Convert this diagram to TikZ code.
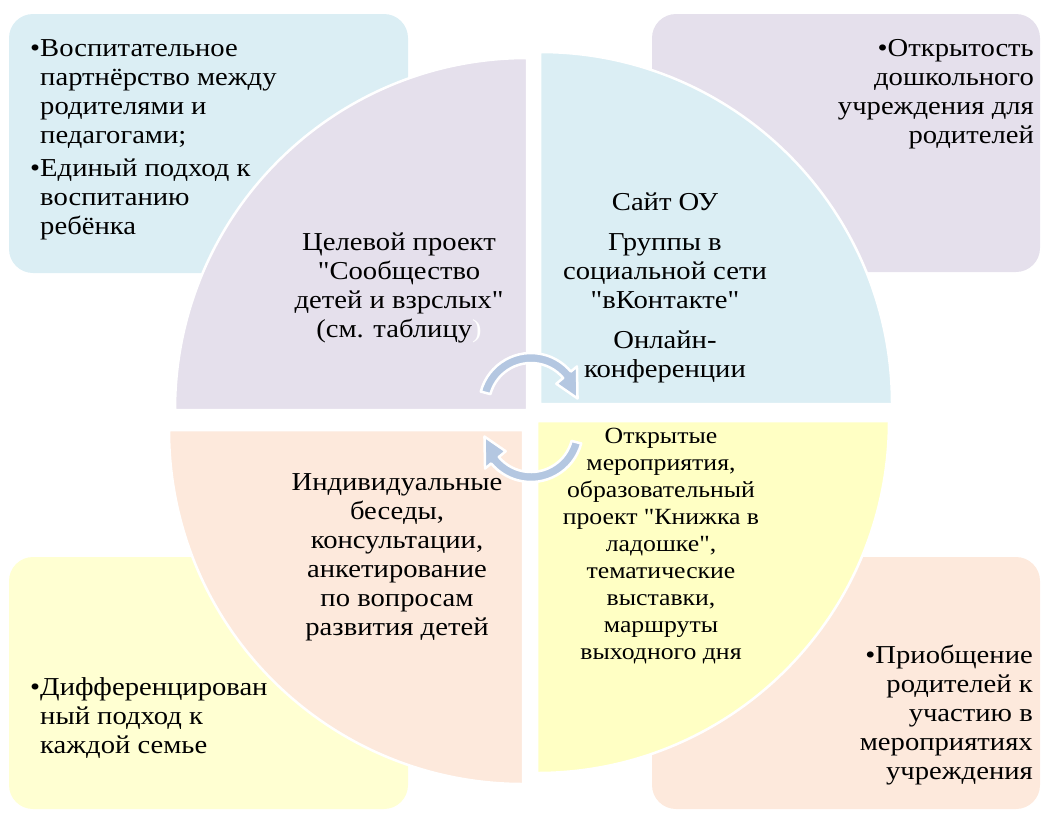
\documentclass[tikz,border=0pt]{standalone}
\usepackage{fontspec}
\setmainfont{Liberation Serif}[Ligatures=TeXOff,FakeStretch=1.11]
\definecolor{cblue}{HTML}{DBEEF4}
\definecolor{clav}{HTML}{E5E0EC}
\definecolor{cyelq}{HTML}{FFFFC4}
\definecolor{cyelr}{HTML}{FFFFD2}
\definecolor{cpeach}{HTML}{FDE9DC}
\definecolor{carrow}{HTML}{B4C7E1}
\begin{document}
\begin{tikzpicture}[x=1pt,y=-1pt,
  rbox/.style={rounded corners=24pt},
  quad/.style={draw=white,line width=2.5pt},
  txt/.style={inner sep=0pt,font=\fontsize{25.8}{29}\selectfont},
  stxt/.style={inner sep=0pt,font=\fontsize{23.2}{27}\selectfont},
  cyc/.style={fill=carrow,draw=white,line width=2.5pt,line join=round}]
\useasboundingbox (0,0) rectangle (1043,812);
% outer boxes
\fill[rbox,cblue] (9,14) rectangle (408,273);
\fill[rbox,clav] (652,14) rectangle (1040,272);
\fill[rbox,cyelr] (9,557) rectangle (408,809);
\fill[rbox,cpeach] (652,557) rectangle (1040,809);
% quadrants
\begin{scope}[shift={(527,410)},yscale=-1]
  \filldraw[quad,fill=clav] (0,0) -- (180:352) arc[start angle=180,end angle=90,radius=352] -- cycle;
\end{scope}
\begin{scope}[shift={(540,404)},yscale=-1]
  \filldraw[quad,fill=cblue] (0,0) -- (90:352) arc[start angle=90,end angle=0,radius=352] -- cycle;
\end{scope}
\begin{scope}[shift={(537,421)},yscale=-1]
  \filldraw[quad,fill=cyelq] (0,0) -- (0:352) arc[start angle=0,end angle=-90,radius=352] -- cycle;
\end{scope}
\begin{scope}[shift={(523,430)},yscale=-1]
  \filldraw[quad,fill=cpeach] (0,0) -- (-90:354) arc[start angle=-90,end angle=-180,radius=354] -- cycle;
\end{scope}
% box texts
\node[txt,anchor=north west,align=left] (ttl) at (30,35.7)
  {\strut•Воспитательное\\\hphantom{•}партнёрство между\\\hphantom{•}родителями и\\\hphantom{•}педагогами;\\[4pt]•Единый подход к\\\hphantom{•}воспитанию\\\hphantom{•}ребёнка};
\node[txt,anchor=north east,align=right] (ttr) at (1034,35.7)
  {\strut•Открытость\\дошкольного\\учреждения для\\родителей};
\node[txt,anchor=north west,align=left] (tbl) at (30,674.7)
  {\strut•Дифференцирован\\\hphantom{•}ный подход к\\\hphantom{•}каждой семье};
\node[txt,anchor=north east,align=right] (tbr) at (1033,642.7)
  {\strut•Приобщение\\родителей к\\участию в\\мероприятиях\\учреждения};
% quadrant texts
\node[txt,anchor=north,align=center] (qtl) at (399,229.7)
  {\strut Целевой проект\\"Сообщество\\детей и взрслых"\\(см. таблицу\textcolor{white}{)}};
\node[txt,anchor=north,align=center] (qtr) at (665,189.7)
  {\strut Сайт ОУ\\[11pt]Группы в\\социальной сети\\"вКонтакте"\\[11pt]Онлайн-\\конференции};
\node[txt,anchor=north,align=center] (qbl) at (397,469.7)
  {\strut Индивидуальные\\беседы,\\консультации,\\анкетирование\\по вопросам\\развития детей};
\node[stxt,anchor=north,align=center] (qbr) at (661,424.1)
  {\strut Открытые\\мероприятия,\\образовательный\\проект "Книжка в\\ладошке",\\тематические\\выставки,\\маршруты\\выходного дня};
% cycle arrows
\coordinate (ca) at (531,405);
\coordinate (cb) at (531,430);
\begin{scope}[shift={(ca)},yscale=-1]
  \filldraw[cyc] (165:52) arc[start angle=165,end angle=40,radius=52] -- (40:60) -- (8:47) -- (40:33) -- (40:42) arc[start angle=40,end angle=165,radius=42] -- cycle;
\end{scope}
\begin{scope}[shift={(cb)},yscale=-1]
  \filldraw[cyc] (-15:52) arc[start angle=-15,end angle=-140,radius=52] -- (-140:60) -- (-172:47) -- (-140:33) -- (-140:42) arc[start angle=-140,end angle=-15,radius=42] -- cycle;
\end{scope}
\end{tikzpicture}
\end{document}
